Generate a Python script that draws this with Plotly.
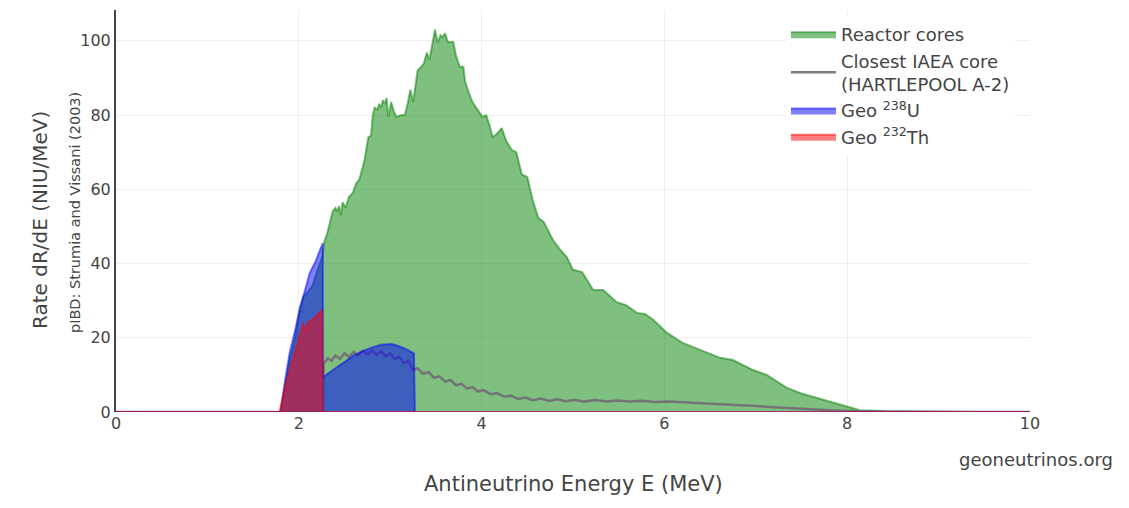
import plotly.graph_objects as go

# Antineutrino energy spectra at the detector site (rate per MeV, NIU/MeV)

# Total reactor-core signal
reactor_e = [0.0, 1.80, 1.85, 1.90, 1.96, 2.00, 2.05, 2.10, 2.15, 2.20, 2.26, 2.28,
             2.31, 2.34, 2.37, 2.40, 2.42, 2.44, 2.46, 2.48, 2.51, 2.55, 2.59, 2.63,
             2.66, 2.70, 2.72, 2.76, 2.79, 2.81, 2.83, 2.86, 2.88, 2.90, 2.92, 2.94,
             2.96, 2.98, 3.01, 3.04, 3.07, 3.12, 3.16, 3.19, 3.22, 3.25, 3.28, 3.30,
             3.34, 3.37, 3.40, 3.43, 3.46, 3.49, 3.52, 3.55, 3.57, 3.60, 3.63, 3.69,
             3.72, 3.76, 3.80, 3.82, 3.86, 3.90, 3.94, 3.97, 4.01, 4.05, 4.09, 4.12,
             4.17, 4.22, 4.27, 4.33, 4.38, 4.44, 4.50, 4.56, 4.62, 4.68, 4.78, 4.85,
             4.93, 5.00, 5.10, 5.22, 5.33, 5.48, 5.58, 5.70, 5.79, 5.88, 6.03, 6.20,
             6.39, 6.61, 6.75, 6.97, 7.12, 7.34, 7.50, 7.67, 7.85, 8.00, 8.14, 8.40,
             8.70, 9.00, 9.50, 10.0]
reactor_rate = [0.0, 0.0, 7.0, 14.0, 20.0, 26.0, 31.0, 32.5, 34.0, 38.0, 42.0, 46.0,
                48.0, 51.0, 54.0, 55.0, 54.0, 55.5, 53.0, 56.5, 55.0, 58.0, 59.0, 61.7,
                62.5, 66.0, 68.0, 74.0, 74.5, 80.0, 82.0, 81.5, 83.0, 82.0, 84.0, 83.0,
                84.6, 79.5, 83.5, 81.0, 79.5, 80.0, 80.0, 83.0, 86.8, 83.5, 88.0, 92.0,
                93.0, 94.0, 96.8, 95.0, 99.0, 103.0, 99.5, 101.5, 101.0, 102.0, 99.7, 99.7,
                96.0, 93.0, 93.0, 89.0, 86.0, 83.5, 82.0, 81.0, 79.5, 80.0, 77.0, 74.0,
                75.0, 76.5, 73.0, 70.6, 70.0, 64.0, 63.3, 57.0, 52.3, 51.2, 46.4, 44.0,
                41.8, 38.3, 37.7, 32.9, 32.9, 29.6, 28.8, 26.7, 26.4, 24.8, 21.3, 18.6,
                16.7, 14.6, 14.0, 11.3, 10.0, 6.5, 5.0, 3.8, 2.4, 1.3, 0.5, 0.25,
                0.15, 0.08, 0.03, 0.0]

# Closest single core (HARTLEPOOL A-2)
core_e = [0.0, 2.265, 2.27, 2.32, 2.36, 2.40, 2.45, 2.50, 2.55, 2.60,
          2.65, 2.70, 2.75, 2.80, 2.85, 2.90, 2.95, 3.00, 3.05, 3.10, 3.15, 3.20,
          3.25, 3.30, 3.36, 3.42, 3.48, 3.54, 3.60, 3.66, 3.72, 3.78, 3.84, 3.90,
          3.96, 4.02, 4.10, 4.17, 4.25, 4.32, 4.40, 4.48, 4.56, 4.65, 4.74, 4.83,
          4.92, 5.02, 5.12, 5.24, 5.36, 5.48, 5.62, 5.76, 5.90, 6.05, 6.20, 6.40,
          6.60, 6.80, 7.00, 7.20, 7.40, 7.60, 7.80, 8.00, 8.20, 8.50, 9.00, 10.0]
core_rate = [0.0, 0.0, 13.0, 14.5, 13.8, 15.2, 14.3, 15.8, 14.8, 16.2,
             15.3, 16.5, 15.5, 16.6, 15.4, 16.4, 15.0, 15.8, 14.2, 14.9, 13.2, 13.8,
             11.2, 11.8, 10.3, 10.8, 9.2, 9.6, 8.2, 8.6, 7.2, 7.6, 6.3, 6.7,
             5.5, 5.9, 4.8, 5.1, 4.1, 4.4, 3.5, 3.9, 3.2, 3.6, 3.0, 3.4,
             2.9, 3.3, 2.8, 3.2, 2.8, 3.1, 2.8, 3.0, 2.7, 2.8, 2.6, 2.4,
             2.2, 2.0, 1.6, 1.3, 1.0, 0.7, 0.5, 0.3, 0.15, 0.06, 0.02, 0.0]

# Geoneutrinos from the 238U chain
u_e = [0.0, 1.80, 1.85, 1.90, 1.96, 2.01, 2.07, 2.12, 2.18, 2.25, 2.262,
       2.265, 2.30, 2.40, 2.50, 2.60, 2.70, 2.80, 2.90, 2.96, 3.00, 3.05, 3.10,
       3.15, 3.20, 3.26, 3.27, 10.0]
u_rate = [0.0, 0.0, 8.6, 16.0, 22.0, 28.0, 33.0, 37.5, 40.4, 45.0, 45.5,
          9.2, 10.0, 11.8, 13.5, 15.2, 16.4, 17.4, 18.1, 18.3, 18.3, 18.1, 17.7,
          17.2, 16.6, 15.8, 0.0, 0.0]

# Geoneutrinos from the 232Th chain
th_e = [0.0, 1.79, 1.85, 1.90, 1.98, 2.03, 2.05, 2.07, 2.10, 2.18, 2.23, 2.255,
        2.26, 10.0]
th_rate = [0.0, 0.0, 7.0, 11.3, 18.6, 23.0, 24.0, 21.6, 24.0, 25.6, 27.0, 27.5,
           0.0, 0.0]

FONT = "DejaVu Sans"
TEXT = "#444"

fig = go.Figure()
fig.add_trace(go.Scatter(
    x=reactor_e, y=reactor_rate, name="Reactor cores", mode="lines",
    fill="tozeroy", fillcolor="rgba(0,128,0,0.5)",
    line=dict(color="rgba(0,128,0,0.5)", width=2)))
fig.add_trace(go.Scatter(
    x=core_e, y=core_rate, name="Closest IAEA core<br>(HARTLEPOOL A-2)",
    mode="lines", line=dict(color="rgba(115,108,118,0.9)", width=2.5)))
fig.add_trace(go.Scatter(
    x=u_e, y=u_rate, name="Geo <sup>238</sup>U", mode="lines",
    fill="tozeroy", fillcolor="rgba(0,0,255,0.5)",
    line=dict(color="rgba(0,0,255,0.5)", width=2)))
fig.add_trace(go.Scatter(
    x=th_e, y=th_rate, name="Geo <sup>232</sup>Th", mode="lines",
    fill="tozeroy", fillcolor="rgba(255,0,0,0.5)",
    line=dict(color="rgba(255,0,0,0.5)", width=2)))

fig.update_layout(
    width=1129, height=508,
    margin=dict(l=116, r=99, t=10, b=96),
    paper_bgcolor="white", plot_bgcolor="white",
    font=dict(family=FONT, size=16, color=TEXT),
    legend=dict(x=0.733, y=0.985, xanchor="left", yanchor="top",
                itemwidth=45, tracegroupgap=4,
                bgcolor="white", font=dict(family=FONT, size=18, color=TEXT)),
    xaxis=dict(range=[0, 10], tickvals=[0, 2, 4, 6, 8, 10],
               showgrid=True, gridcolor="#eee", zeroline=False,
               tickfont=dict(size=16, color=TEXT)),
    yaxis=dict(range=[0, 108.3], tickvals=[0, 20, 40, 60, 80, 100],
               showgrid=True, gridcolor="#eee", zeroline=False,
               showline=True, linecolor="#444", linewidth=2,
               tickfont=dict(size=16, color=TEXT)),
    annotations=[
        dict(text="Antineutrino Energy E (MeV)", xref="paper", yref="paper",
             x=0.5, y=-0.179, xanchor="center", yanchor="middle",
             showarrow=False, font=dict(size=21, color=TEXT)),
        dict(text="Rate dR/dE (NIU/MeV)", xref="paper", yref="paper",
             x=-0.083, y=0.478, xanchor="center", yanchor="middle",
             textangle=-90, showarrow=False, font=dict(size=20, color=TEXT)),
        dict(text="pIBD: Strumia and Vissani (2003)", xref="paper", yref="paper",
             x=-0.045, y=0.497, xanchor="center", yanchor="middle",
             textangle=-90, showarrow=False, font=dict(size=14.5, color=TEXT)),
        dict(text="geoneutrinos.org", xref="paper", yref="paper",
             x=1.093, y=-0.119, xanchor="right", yanchor="middle",
             showarrow=False, font=dict(size=18, color=TEXT)),
    ],
)

fig.write_html("out.html")
